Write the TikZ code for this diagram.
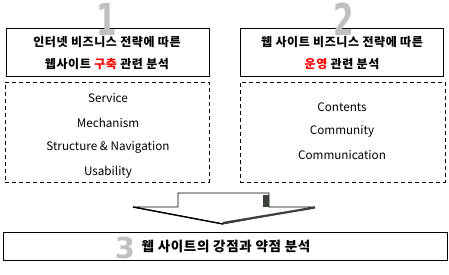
\documentclass[tikz,border=0pt]{standalone}
\usepackage{fontspec}
\usepackage{graphicx}
\setmainfont{Noto Sans CJK KR}
\newfontfamily\krfont[LetterSpace=5]{Noto Sans CJK KR}
\newfontfamily\digitfont{DejaVu Sans}
\definecolor{digitgray}{HTML}{C0C0C0}
\definecolor{arrowdark}{HTML}{3C403A}
\definecolor{hlred}{HTML}{FF0000}
\tikzset{
  titlebox/.style={draw, line width=1pt, inner sep=0pt, minimum width=203pt, minimum height=48pt},
  titletext/.style={inner sep=0pt, text height=9pt, text depth=2pt, font=\krfont\bfseries\fontsize{12}{14}\selectfont},
  dashbox/.style={draw, line width=0.8pt, dash pattern=on 4pt off 3pt, inner sep=0pt},
  item/.style={inner sep=0pt, font=\fontsize{11.7}{14}\selectfont},
  digit/.style={inner sep=0pt, text=digitgray, font=\digitfont\bfseries},
  bottombox/.style={draw, line width=1pt, inner sep=0pt, minimum width=444pt, minimum height=28pt},
  bottomtext/.style={inner sep=0pt, font=\krfont\bfseries\fontsize{13.5}{16}\selectfont},
}
\begin{document}
\begin{tikzpicture}[x=1pt, y=-1pt]
\useasboundingbox (0,0) rectangle (449,275);
% top boxes
\node[titlebox] (t1) at (107.5,53) {};
\node[titlebox] (t2) at (341.5,53) {};
\node[titletext] (t1a) at (107,43.5) {인터넷 비즈니스 전략에 따른};
\node[titletext] (t1b) at (107,65) {웹사이트 \textcolor{hlred}{구축} 관련 분석};
\node[titletext] (t2a) at (342,43.5) {웹 사이트 비즈니스 전략에 따른};
\node[titletext] (t2b) at (342,65) {\textcolor{hlred}{운영} 관련 분석};
% digits
\node[digit, font=\digitfont\bfseries\fontsize{44}{44}\selectfont] (d1) at (106.5,19.5) {\scalebox{0.67}[1]{1}};
\node[digit, font=\digitfont\bfseries\fontsize{44}{44}\selectfont] (d2) at (343.5,19.5) {\scalebox{0.67}[1]{2}};
% dashed boxes
\node[dashbox, minimum width=204pt, minimum height=100pt] (b1) at (107,132) {};
\node[dashbox, minimum width=205pt, minimum height=100pt] (b2) at (342.5,132) {};
\node[item] (s1) at (108,98) {Service};
\node[item] (s2) at (108,122.5) {Mechanism};
\node[item] (s3) at (108,147) {Structure \& Navigation};
\node[item] (s4) at (108,172) {Usability};
\node[item] (c1) at (342,107) {Contents};
\node[item] (c2) at (342,131.5) {Community};
\node[item] (c3) at (342,155.5) {Communication};
% arrow
\draw[line width=0.8pt, fill=white] (178,207) -- (178,193) -- (269,193) -- (269,207) -- (315,207) -- (223,224) -- (133,207) -- cycle;
\fill[arrowdark] (263,195) rectangle (269,207);
\draw[arrowdark, line width=2.2pt] (223,223) -- (315,207.5);
\draw[line width=1.4pt] (133,207) -- (223,224);
% bottom box
\node[bottombox] (b3) at (225,246) {};
\node[digit, font=\digitfont\bfseries\fontsize{29}{29}\selectfont] (d3) at (125,247.5) {3};
\node[bottomtext] (t3) at (226,246) {웹 사이트의 강점과 약점 분석};
\end{tikzpicture}
\end{document}
